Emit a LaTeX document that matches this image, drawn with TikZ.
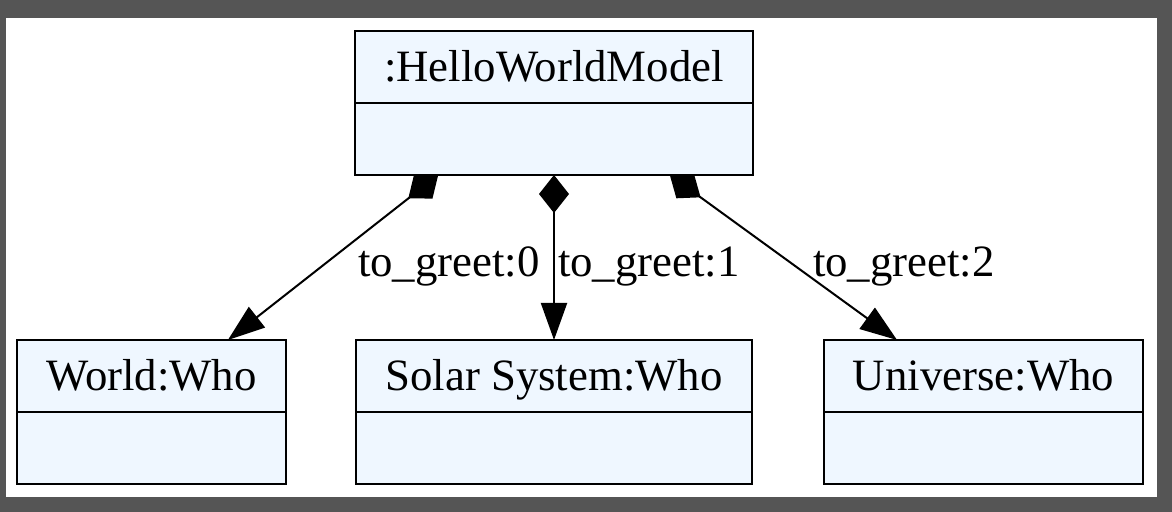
\documentclass[tikz,border=0pt]{standalone}
\usepackage{fontspec}
\setmainfont{Liberation Serif}
\usetikzlibrary{arrows.meta,positioning,calc}
\definecolor{boxfill}{HTML}{EFF7FF}
\definecolor{framegray}{HTML}{555555}

\begin{document}
\begin{tikzpicture}[x=0.5pt, y=-0.5pt,
  every node/.style={font=\fontsize{22.4}{26}\selectfont, inner sep=0pt, outer sep=0pt},
  classhead/.style={draw, line width=1pt, fill=boxfill, minimum height=36pt, text height=14.8pt, text depth=0pt},
  classattr/.style={draw, line width=1pt, fill=boxfill, minimum height=36pt},
  comp/.style={line width=1pt, arrows={Diamond[length=19pt,width=15pt]-Triangle[length=18.5pt,width=13pt]}}]
	\fill[framegray] (0,0) rectangle (1172,512);
	\fill[white] (6,18) rectangle (1157,497);
	\node[classhead, minimum width=199pt] (model) at (554,67) {:HelloWorldModel};
	\node[classattr, minimum width=199pt, below=0pt of model] (modelAttr) {};
	\node[classhead, minimum width=134.5pt] (world) at (151.5,376) {World:Who};
	\node[classattr, minimum width=134.5pt, below=0pt of world] (worldAttr) {};
	\node[classhead, minimum width=198pt] (solar) at (554,376) {Solar System:Who};
	\node[classattr, minimum width=198pt, below=0pt of solar] (solarAttr) {};
	\node[classhead, minimum width=159.5pt] (universe) at (983.5,376) {Universe:Who};
	\node[classattr, minimum width=159.5pt, below=0pt of universe] (universeAttr) {};
	\draw[comp] ($(modelAttr.south west)!0.209!(modelAttr.south east)$) -- ($(world.north west)!0.784!(world.north east)$);
	\draw[comp] (modelAttr.south) -- (solar.north);
	\draw[comp] ($(modelAttr.south west)!0.791!(modelAttr.south east)$) -- ($(universe.north west)!0.229!(universe.north east)$);
	\node[anchor=base west] (greet0) at (358,277) {to\_greet:0};
	\node[anchor=base west] (greet1) at (558,277) {to\_greet:1};
	\node[anchor=base west] (greet2) at (813,277) {to\_greet:2};
\end{tikzpicture}
\end{document}
